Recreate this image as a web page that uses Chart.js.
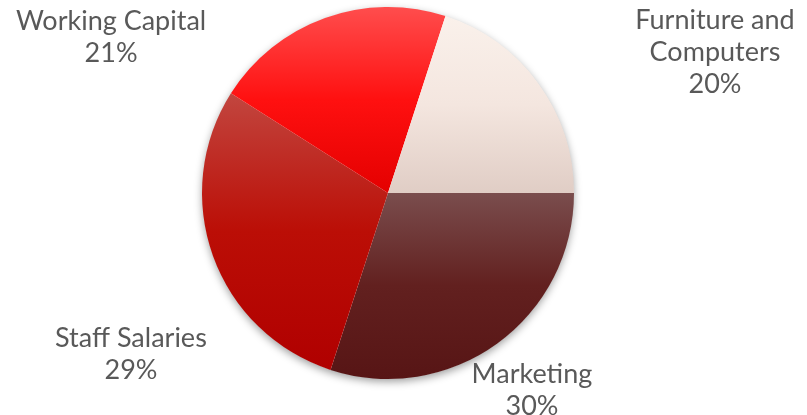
<!DOCTYPE html>
<html>
<head>
<meta charset="utf-8">
<script src="https://cdn.jsdelivr.net/npm/chart.js@4/dist/chart.umd.min.js"></script>
<style>
  html, body { margin: 0; padding: 0; background: #fff; }
  #wrap { width: 807px; height: 415px; }
</style>
</head>
<body>
<div id="wrap"><canvas id="budget-chart" width="807" height="415"></canvas></div>
<script>
// slices, clockwise from 3 o'clock
const categories = ['Marketing', 'Staff Salaries', 'Working Capital', 'Furniture and Computers'];
const labelLines = [['Marketing'], ['Staff Salaries'], ['Working Capital'], ['Furniture and', 'Computers']];
const shares = [30, 29, 21, 20];

// top / middle / bottom colour of each slice's vertical gradient
const gradientStops = [
  ['#7a4d4d', '#62201f', '#571515'],
  ['#c2463f', '#bb0e06', '#b00000'],
  ['#ff4d4d', '#ff1010', '#e40000'],
  ['#faf1eb', '#f4e6df', '#e0cdc5']
];

// where each label's first line sits, in pie radii from the centre
const labelAnchors = [
  [0.774, 1.022],
  [-1.382, 0.828],
  [-1.489, -0.876],
  [1.758, -0.882]
];

const ROTATION = 90;
const total = shares.reduce((a, b) => a + b, 0);

function sliceGradient(context) {
  const chart = context.chart;
  const area = chart.chartArea;
  const i = context.dataIndex;
  if (!area || i === undefined) return gradientStops[i] ? gradientStops[i][1] : '#ccc';
  const cx = (area.left + area.right) / 2;
  const cy = (area.top + area.bottom) / 2;
  const r = Math.min(area.right - area.left, area.bottom - area.top) / 2;
  const before = shares.slice(0, i).reduce((a, b) => a + b, 0);
  const start = (ROTATION - 90) * Math.PI / 180 + before / total * Math.PI * 2;
  const end = start + shares[i] / total * Math.PI * 2;
  // vertical extent of the wedge
  const ys = [cy, cy + r * Math.sin(start), cy + r * Math.sin(end)];
  for (const a of [Math.PI / 2, -Math.PI / 2, Math.PI * 1.5, Math.PI * 2.5]) {
    if (a > start && a < end) ys.push(cy + r * Math.sin(a));
  }
  const top = Math.min(...ys), bottom = Math.max(...ys);
  const g = chart.ctx.createLinearGradient(0, top, 0, bottom);
  g.addColorStop(0, gradientStops[i][0]);
  g.addColorStop(0.5, gradientStops[i][1]);
  g.addColorStop(1, gradientStops[i][2]);
  return g;
}

const pieShadow = {
  id: 'pieShadow',
  beforeDatasetsDraw(chart) {
    const arc = chart.getDatasetMeta(0).data[0];
    if (!arc) return;
    const ctx = chart.ctx;
    ctx.save();
    ctx.shadowColor = 'rgba(0,0,0,0.4)';
    ctx.shadowBlur = 8;
    ctx.shadowOffsetY = 3;
    ctx.fillStyle = '#fff';
    ctx.beginPath();
    ctx.arc(arc.x, arc.y, arc.outerRadius - 0.5, 0, Math.PI * 2);
    ctx.fill();
    ctx.restore();
  }
};

const outerLabels = {
  id: 'outerLabels',
  afterDatasetsDraw(chart) {
    const meta = chart.getDatasetMeta(0);
    const ctx = chart.ctx;
    ctx.save();
    ctx.font = '27px Lato, "Open Sans", sans-serif';
    ctx.fillStyle = '#595959';
    ctx.textAlign = 'center';
    ctx.textBaseline = 'alphabetic';
    meta.data.forEach((arc, i) => {
      const r = arc.outerRadius;
      const x = arc.x + labelAnchors[i][0] * r;
      let y = arc.y + labelAnchors[i][1] * r;
      const pct = Math.round(shares[i] / total * 100) + '%';
      labelLines[i].concat([pct]).forEach(line => {
        ctx.fillText(line, x, y);
        y += 32;
      });
    });
    ctx.restore();
  }
};

new Chart(document.getElementById('budget-chart').getContext('2d'), {
  type: 'pie',
  data: {
    labels: categories,
    datasets: [{
      data: shares,
      backgroundColor: sliceGradient,
      borderWidth: 0
    }]
  },
  options: {
    responsive: false,
    animation: false,
    rotation: ROTATION,
    layout: { padding: { top: 7, bottom: 36, left: 0, right: 31 } },
    plugins: {
      legend: { display: false },
      tooltip: { enabled: false }
    }
  },
  plugins: [pieShadow, outerLabels]
});
</script>
</body>
</html>
